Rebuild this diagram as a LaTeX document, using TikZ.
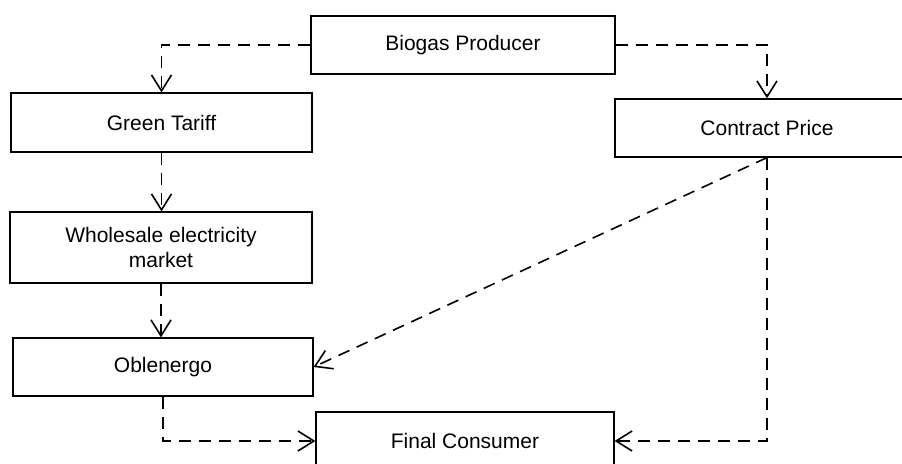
\documentclass[tikz,border=0pt]{standalone}
\usepackage{fontspec}
\setmainfont{Liberation Sans}
\usetikzlibrary{arrows.meta}
\begin{document}
\begin{tikzpicture}[x=0.5pt,y=-0.5pt,
  box/.style={draw=black,line width=0.6pt,fill=white,inner sep=0pt,
    align=center,font=\fontsize{10.5}{12.5}\selectfont},
  flow/.style={draw=black,line width=0.8pt,dash pattern=on 6pt off 4pt,
    -{Straight Barb[length=8pt,width=10pt,line width=0.8pt]}}]
\useasboundingbox (0,0) rectangle (902,463);
\begin{scope}
\clip (0,0) rectangle (902,463);
\node[box,minimum width=152pt,minimum height=29pt] (bio) at (463,45) {Biogas Producer};
\node[box,minimum width=150.5pt,minimum height=29.5pt] (green) at (161.5,122.5) {Green Tariff};
\node[box,minimum width=152pt,minimum height=29pt] (contract) at (767,128) {Contract Price};
\node[box,minimum width=151pt,minimum height=35.5pt] (whole) at (161,247.5) {Wholesale electricity\\market};
\node[box,minimum width=150pt,minimum height=29pt] (obl) at (163,367) {Oblenergo};
\node[box,minimum width=149pt,minimum height=29pt] (final) at (465,441) {Final Consumer};

\draw[flow] (bio.west) -| (green.north);
\draw[flow] (bio.east) -| (contract.north);
\draw[flow] (green.south) -- (green.south |- whole.north);
\draw[flow] (whole.south) -- (whole.south |- obl.north);
\draw[flow] (contract.south) -- (obl.east);
\draw[flow] (obl.south) |- (final.west);
\draw[flow] (contract.south) |- (final.east);
\end{scope}
\end{tikzpicture}
\end{document}
